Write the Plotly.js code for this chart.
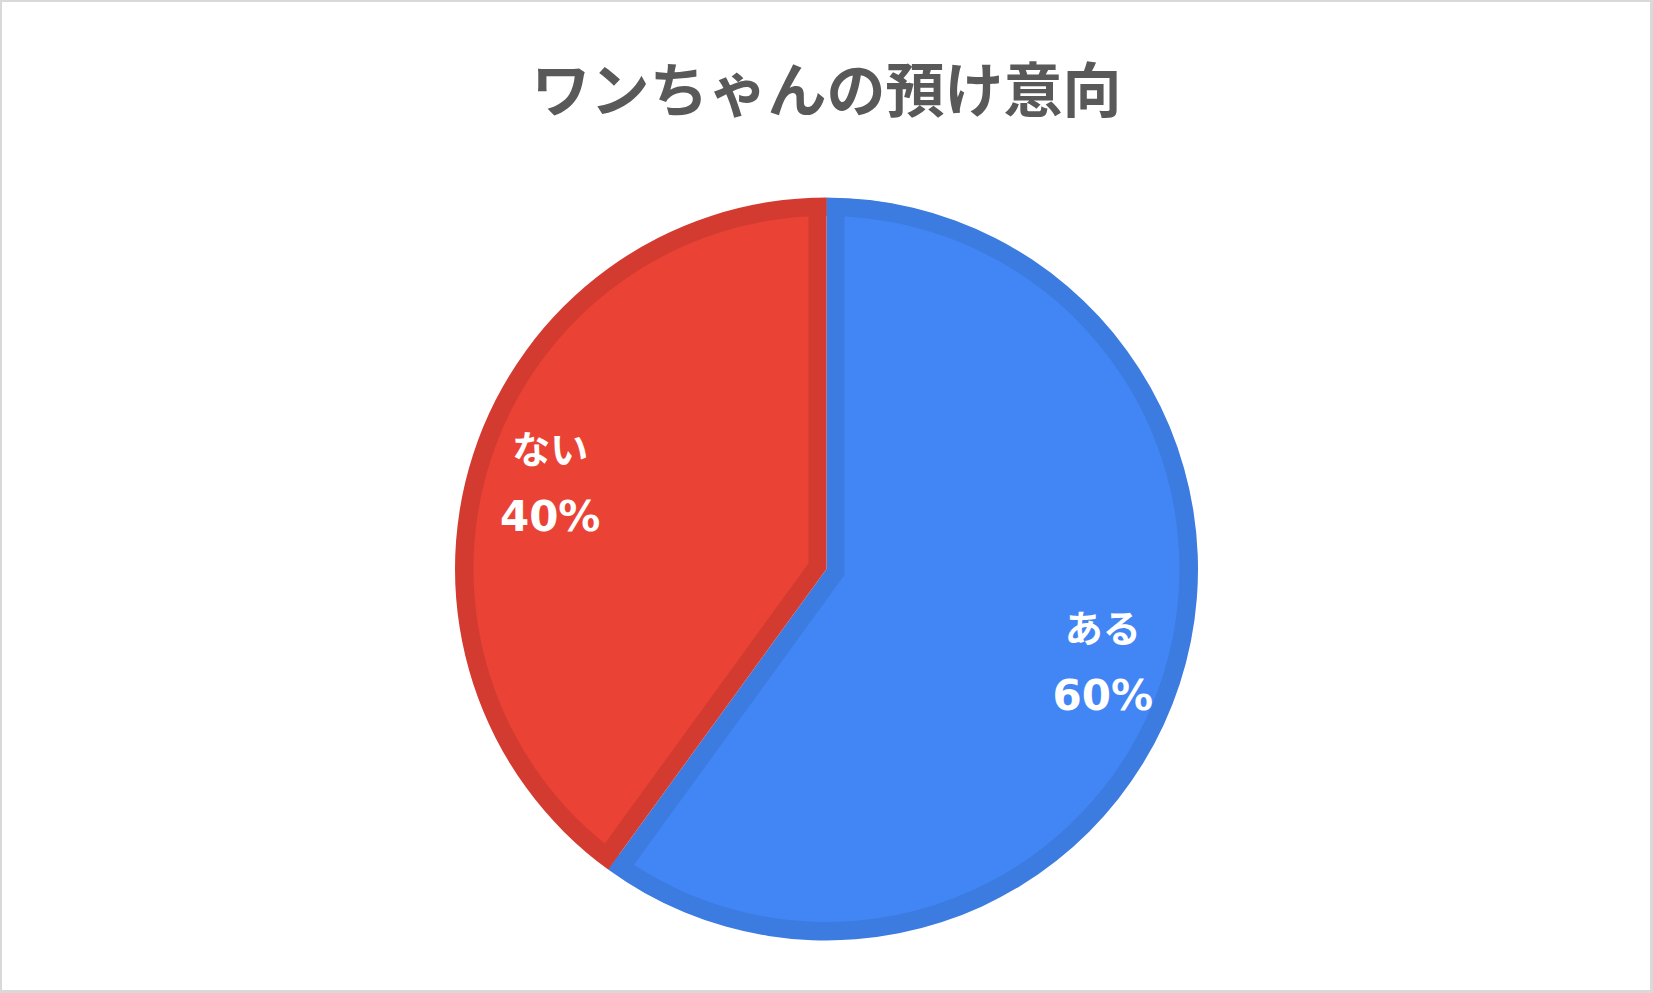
<!DOCTYPE html>
<html><head><meta charset="utf-8">
<script src="https://cdn.plot.ly/plotly-3.0.1.min.js"></script>
<style>
html,body{margin:0;padding:0;background:#fff;}
#wrap{position:relative;width:1653px;height:993px;}
#chart{width:1653px;height:993px;}
#frame{position:absolute;left:0;top:0;width:1653px;height:993px;box-sizing:border-box;border-style:solid;border-color:#d9d9d9;border-width:2px 3px 3px 2px;pointer-events:none;}
</style></head><body>
<div id="wrap"><div id="chart"></div><div id="frame"></div></div>
<script>
// ---- data ----
const categories = ['ある', 'ない'];
const values = [60, 40];
const fillColors = ['#4285F4', '#EA4335'];
const edgeColors = ['#3C7BDF', '#D33B31'];
const titleText = 'ワンちゃんの預け意向';

// ---- geometry (layout only) ----
const W = 1653, H = 993;
const CX = 826.5, CY = 569;   // pie centre, px from top-left
const R = 371;                // outer radius
const EDGE = 18;              // inner border width
function dom(half, dy) {
  const cy = CY + (dy || 0);
  return {x: [(CX - half) / W, (CX + half) / W], y: [(H - cy - half) / H, (H - cy + half) / H]};
}
const total = values.reduce((a, b) => a + b, 0);
const r2 = R + 3;
const pulls = values.map(v => (EDGE / Math.abs(Math.sin(Math.PI * v / total))) / r2);
const maxPull = Math.max(...pulls);
const RW = R + 30;
const RL = 390;

const common = {
  type: 'pie', labels: categories, values: values, sort: false,
  direction: 'clockwise', rotation: 0, hoverinfo: 'skip', showlegend: false
};

const traces = [
  Object.assign({}, common, {
    domain: dom(R), textinfo: 'none',
    marker: {colors: edgeColors, line: {width: 0}}
  }),
  Object.assign({}, common, {
    domain: dom(r2 * (1 + maxPull)), pull: pulls, textinfo: 'none',
    marker: {colors: fillColors, line: {width: 0}}
  }),
  Object.assign({}, common, {
    domain: dom(R + 1), hole: (R - EDGE) / (R + 1), textinfo: 'none',
    marker: {colors: edgeColors, line: {width: 0}}
  }),
  Object.assign({}, common, {
    domain: dom(RW), hole: (R + 0.5) / RW, textinfo: 'none',
    marker: {colors: categories.map(() => '#ffffff'), line: {width: 0}}
  }),
  Object.assign({}, common, {
    domain: dom(RL, 5), hole: 0.49,
    marker: {colors: categories.map(() => 'rgba(0,0,0,0)'), line: {width: 0}},
    textposition: 'inside', insidetextorientation: 'horizontal',
    texttemplate: '<span style="font-size:38px">%{label}</span><br><span style="font-size:42px">%{percent}</span>',
    textfont: {family: 'DejaVu Sans, Noto Sans CJK JP, sans-serif', size: 52, color: '#ffffff', weight: 'bold'}
  })
];

const layout = {
  width: W, height: H,
  margin: {l: 0, r: 0, t: 0, b: 0},
  paper_bgcolor: '#ffffff', plot_bgcolor: '#ffffff',
  title: {
    text: titleText,
    font: {family: 'Noto Sans CJK JP, sans-serif', size: 59, color: '#595959', weight: 'bold'},
    x: 0.5, xanchor: 'center', xref: 'container',
    y: 1 - 91 / H, yanchor: 'middle', yref: 'container'
  }
};

Plotly.newPlot('chart', traces, layout, {displayModeBar: false, staticPlot: true});
</script>
</body></html>
